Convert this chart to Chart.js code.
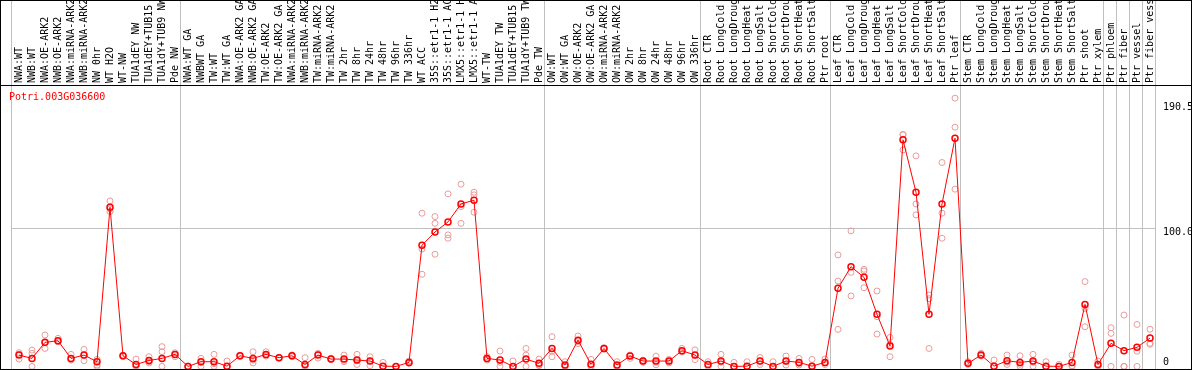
<!DOCTYPE html>
<html>
<head>
<meta charset="utf-8">
<title>Potri.003G036600</title>
<script src="https://cdn.jsdelivr.net/npm/chart.js@4.4.1/dist/chart.umd.min.js"></script>
<style>
    html, body { margin: 0; padding: 0; background: #fff; }
    #frame {
        position: relative;
        width: 1192px;
        height: 370px;
        box-sizing: border-box;
        border: 1px solid #000;
    }
    #frame canvas { display: block; }
    #gene {
        position: absolute;
        left: 8px;
        top: 91px;
        font: 10px/10px "DejaVu Sans Mono", monospace;
        color: #ff0000;
        white-space: nowrap;
    }
</style>
</head>
<body>
<div id="frame">
    <canvas id="expr-chart" width="1190" height="368"></canvas>
    <div id="gene">Potri.003G036600</div>
</div>
<script>
// sample names, left to right
const sampleNames = [
    'NWA:WT', 'NWB:WT', 'NWA:OE-ARK2', 'NWB:OE-ARK2', 'NWA:miRNA-ARK2', 'NWB:miRNA-ARK2',
    'NW 0hr', 'WT H2O', 'WT-NW', 'TUA1dEY NW', 'TUA1dEY+TUB15 NW', 'TUA1dY+TUB9 NW', 'Pde NW',
    'NWA:WT GA', 'NWBWT GA', 'TW:WT', 'TW:WT GA', 'NWA:OE-ARK2 GA', 'NWB:OE-ARK2 GA',
    'TW:OE-ARK2', 'TW:OE-ARK2 GA', 'NWA:miRNA-ARK2 GA', 'NWB:miRNA-ARK2 GA', 'TW:miRNA-ARK2',
    'TW:miRNA-ARK2 GA', 'TW 2hr', 'TW 8hr', 'TW 24hr', 'TW 48hr', 'TW 96hr', 'TW 336hr',
    'WT ACC', '35S::etr1-1 H2O', '35S::etr1-1 ACC', 'LMX5::etr1-1 H2O', 'LMX5::etr1-1 ACC',
    'WT-TW', 'TUA1dEY TW', 'TUA1dEY+TUB15 TW', 'TUA1dY+TUB9 TW', 'Pde TW',
    'OW:WT', 'OW:WT GA', 'OW:OE-ARK2', 'OW:OE-ARK2 GA', 'OW:miRNA-ARK2', 'OW:miRNA-ARK2 GA',
    'OW 2hr', 'OW 8hr', 'OW 24hr', 'OW 48hr', 'OW 96hr', 'OW 336hr',
    'Root CTR', 'Root LongCold', 'Root LongDrought', 'Root LongHeat', 'Root LongSalt',
    'Root ShortCold', 'Root ShortDrought', 'Root ShortHeat', 'Root ShortSalt', 'Ptr root',
    'Leaf CTR', 'Leaf LongCold', 'Leaf LongDrought', 'Leaf LongHeat', 'Leaf LongSalt',
    'Leaf ShortCold', 'Leaf ShortDrought', 'Leaf ShortHeat', 'Leaf ShortSalt', 'Ptr leaf',
    'Stem CTR', 'Stem LongCold', 'Stem LongDrought', 'Stem LongHeat', 'Stem LongSalt',
    'Stem ShortCold', 'Stem ShortDrought', 'Stem ShortHeat', 'Stem ShortSalt',
    'Ptr shoot', 'Ptr xylem', 'Ptr phloem', 'Ptr fiber', 'Ptr vessel', 'Ptr fiber vessel'
];

// mean expression per sample
const meanValues = [
    8.2, 5.8, 17.4, 18.6, 5.8, 8.2, 3.4, 115.2, 7.7, 1.4,
    4.3, 5.8, 8.7, 0, 3.4, 3.4, 0.2, 7.7, 5.8, 8.7,
    6.3, 7.7, 1.4, 8.2, 5.3, 5.3, 4.6, 3.9, 0.2, 0,
    2.9, 87.7, 97.3, 104.6, 117.6, 120.3, 5.8, 4.6, 0, 5.3,
    2.2, 13.0, 1.0, 19.0, 1.5, 13.0, 1.0, 7.5, 3.9, 3.9,
    3.9, 11.4, 8.2, 1.4, 3.9, 0, 0.2, 3.9, 0, 3.9,
    2.9, 0.2, 2.9, 56.5, 72.2, 64.5, 37.7, 14.7, 164.0, 126.1,
    37.7, 117.6, 165.2, 2.2, 8.2, 0.2, 4.1, 2.9, 3.9, 0.2,
    0, 2.9, 44.9, 1.4, 16.7, 11.4, 13.8, 20.5
];

// individual replicates per sample
const replicateValues = [
    [9.9, 5.3, 8.5], [11.8, 9.4, 0], [22.7, 13.0, 17.0], [20.3, 17.9, 18.0], [8.7, 4.6, 5.0],
    [12.3, 4.1, 8.0], [5.1, 1.0, 0], [119.8, 112.1, 114.0], [8.0, 7.5, 7.2], [5.3, 0, 0.5],
    [7.0, 3.4, 2.5], [14.3, 10.6, 0], [9.9, 7.0, 8.5], [0, 0.3, 0], [5.8, 0, 3.0],
    [8.7, 0, 2.0], [3.9, 0, 0], [7.7, 7.2, 8.0], [10.6, 4.6, 2.5], [10.6, 8.2, 7.5],
    [6.3, 6.0, 6.5], [7.7, 7.0, 8.3], [6.3, 0, 0.5], [9.4, 6.0, 8.5], [5.8, 5.0, 5.5],
    [8.2, 3.4, 4.5], [8.7, 1.4, 4.0], [7.0, 0.5, 4.0], [2.9, 0, 0], [0, 0, 0],
    [3.9, 2.5, 2.2], [110.9, 85.0, 66.7], [108.5, 103.6, 81.2], [124.9, 95.2, 92.8], [131.9, 115.7, 103.6],
    [126.1, 124.2, 111.6], [7.0, 4.6, 5.5], [11.1, 0, 3.0], [3.9, 0, 0], [13.0, 8.2, 0],
    [5.3, 0.5, 1.0], [21.5, 7.0, 11.0], [3.4, 0, 0], [22.0, 18.0, 16.5], [5.1, 0, 0],
    [13.5, 12.5, 13.0], [3.4, 0, 0], [8.2, 5.8, 7.5], [3.9, 3.0, 4.5], [7.4, 1.2, 3.0],
    [5.0, 2.5, 3.5], [13.0, 11.0, 10.5], [12.0, 4.9, 8.0], [3.4, 0, 1.0], [8.7, 0, 3.0],
    [2.9, 0, 0], [3.4, 0, 0], [6.5, 1.4, 3.8], [3.4, 0, 0], [7.5, 1.0, 3.5],
    [5.8, 1.0, 2.0], [5.0, 0, 0], [5.3, 1.4, 2.5], [80.7, 61.8, 26.8], [98.1, 68.1, 51.0],
    [70.3, 69.1, 57.0], [54.6, 36.0, 23.4], [21.0, 7.0, 16.0], [167.6, 156.7, 168.0], [152.4, 117.6, 109.7],
    [51.7, 49.0, 13.0], [147.6, 110.9, 92.8], [194.2, 173.2, 128.3], [3.4, 1.5, 2.0], [9.5, 8.0, 7.5],
    [4.6, 0, 0], [8.2, 1.4, 3.0], [7.7, 0, 1.5], [8.7, 0, 3.0], [3.4, 0, 0],
    [1.4, 0, 0], [8.2, 0, 0.5], [61.4, 42.0, 28.7], [3.9, 0, 0.5], [28.0, 23.9, 0],
    [37.2, 0, 0], [30.4, 0, 11.0], [26.9, 16.7, 16.0]
];

// a group ends before these sample indices (separator lines)
const groupBreaks = [0, 13, 41, 53, 63, 73, 84, 85, 86, 87, 88];

// value axis ticks
const yTickValues = [0, 100, 190.5];

// ---- layout constants ----
const SLOT_START = -8 / 13;     // first point sits 8px into its 13px slot
const Y_MIN = -1.88;
const Y_MAX = 203.0;
const LABEL_BAND = 85;          // height of the rotated name band
const VALUE_COLUMN = 36;        // width of the value label column on the right
const GRID_GREY = '#c0c0c0';
const MONO = '"DejaVu Sans Mono", monospace';

/**
 * black rule under the sample name band, full width
 */
const bandRule = {
    id: 'bandRule',
    afterDraw(chart) {
        const { ctx, chartArea, width } = chart;
        ctx.save();
        ctx.fillStyle = '#000';
        ctx.fillRect(0, chartArea.top - 1, width, 1);
        ctx.restore();
    }
};

function buildReplicatePoints() {
    const pts = [];
    replicateValues.forEach((reps, i) => {
        reps.forEach(v => pts.push({ x: i, y: v }));
    });
    return pts;
}

function initChart() {
    const ctx = document.getElementById('expr-chart').getContext('2d');

    return new Chart(ctx, {
        type: 'line',
        data: {
            datasets: [
                {
                    label: 'mean',
                    data: meanValues.map((v, i) => ({ x: i, y: v })),
                    borderColor: '#ff0000',
                    borderWidth: 1,
                    pointRadius: 3,
                    pointBorderWidth: 1.5,
                    pointBorderColor: '#ff0000',
                    pointBackgroundColor: 'rgba(0,0,0,0)',
                    tension: 0,
                    order: 0
                },
                {
                    label: 'replicates',
                    data: buildReplicatePoints(),
                    showLine: false,
                    pointRadius: 3,
                    pointBorderWidth: 1,
                    pointBorderColor: '#eb9a9a',
                    pointBackgroundColor: 'rgba(0,0,0,0)',
                    order: 1
                }
            ]
        },
        options: {
            responsive: false,
            animation: false,
            events: [],
            layout: {
                autoPadding: false,
                padding: { left: 10, right: 0, top: 0, bottom: 0 }
            },
            plugins: {
                legend: { display: false },
                tooltip: { enabled: false },
                title: { display: false }
            },
            scales: {
                x: {
                    type: 'linear',
                    position: 'top',
                    min: SLOT_START,
                    max: SLOT_START + sampleNames.length,
                    border: { display: false },
                    grid: {
                        color: c => (c.tick && !Number.isInteger(c.tick.value)) ? GRID_GREY : 'rgba(0,0,0,0)',
                        lineWidth: 1,
                        drawTicks: true,
                        tickLength: LABEL_BAND
                    },
                    ticks: {
                        autoSkip: false,
                        minRotation: 90,
                        maxRotation: 90,
                        padding: -LABEL_BAND + 3,
                        labelOffset: 12,
                        color: '#000',
                        font: { family: MONO, size: 10 },
                        callback: v => Number.isInteger(v) ? sampleNames[v] : ''
                    },
                    afterBuildTicks: scale => {
                        const ticks = groupBreaks.map(n => ({ value: n + SLOT_START }));
                        sampleNames.forEach((_, i) => ticks.push({ value: i }));
                        ticks.sort((a, b) => a.value - b.value);
                        scale.ticks = ticks;
                    },
                    afterFit: scale => {
                        scale.height = LABEL_BAND;
                        scale.paddingLeft = 0;
                        scale.paddingRight = 0;
                    }
                },
                y: {
                    type: 'linear',
                    position: 'right',
                    min: Y_MIN,
                    max: Y_MAX,
                    border: { display: false },
                    grid: {
                        color: c => (c.tick && c.tick.value === 100) ? GRID_GREY : 'rgba(0,0,0,0)',
                        drawTicks: false
                    },
                    ticks: {
                        padding: 8,
                        color: '#000',
                        font: { family: MONO, size: 10, lineHeight: 0.8 },
                        // label sits just below its line, except the bottom one
                        callback: v => v === 0 ? ['0', ''] : ['', v.toFixed(1)]
                    },
                    afterBuildTicks: scale => {
                        scale.ticks = yTickValues.map(v => ({ value: v }));
                    },
                    afterFit: scale => {
                        scale.width = VALUE_COLUMN;
                        scale.paddingTop = 0;
                        scale.paddingBottom = 0;
                    }
                }
            }
        },
        plugins: [bandRule]
    });
}

initChart();
</script>
</body>
</html>
